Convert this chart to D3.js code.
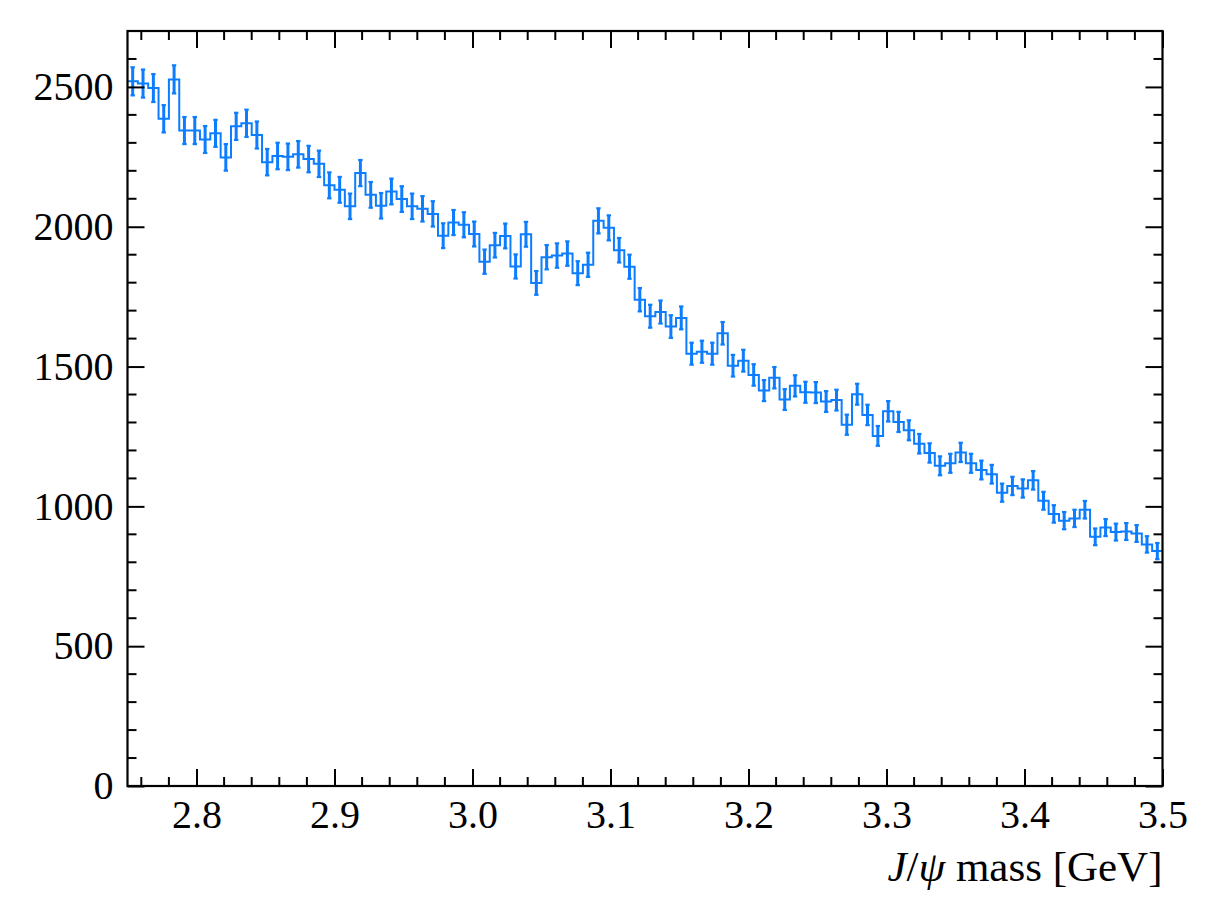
<!DOCTYPE html>
<html>
<head>
<meta charset="utf-8">
<script src="https://cdn.jsdelivr.net/npm/d3@7"></script>
<style>
  html, body { margin: 0; padding: 0; background: #fff; }
  svg { display: block; }
</style>
</head>
<body>
<svg id="chart" width="1218" height="918"></svg>
<script>
// ---- data ----
const xRange = [2.75, 3.5];
const nBins = 100;
const counts = [
  2520, 2512, 2496, 2386, 2527, 2344, 2344, 2312, 2334, 2248,
  2359, 2370, 2328, 2231, 2253, 2250, 2259, 2242, 2225, 2148,
  2132, 2073, 2192, 2114, 2075, 2126, 2099, 2073, 2064, 2046,
  1968, 2015, 2007, 1974, 1875, 1934, 1967, 1858, 1973, 1799,
  1891, 1897, 1904, 1834, 1864, 2021, 1996, 1916, 1857, 1739,
  1680, 1695, 1643, 1674, 1546, 1553, 1546, 1619, 1503, 1521,
  1470, 1414, 1460, 1382, 1431, 1408, 1407, 1375, 1380, 1292,
  1401, 1327, 1252, 1340, 1302, 1272, 1224, 1191, 1145, 1154,
  1193, 1154, 1130, 1115, 1049, 1073, 1064, 1093, 1020, 973,
  949, 957, 988, 891, 924, 908, 910, 903, 864, 840
];
const xTicks = [2.8, 2.9, 3.0, 3.1, 3.2, 3.3, 3.4, 3.5];
const yTicks = [0, 500, 1000, 1500, 2000, 2500];
const yDomain = [0, 2700];

(function () {
// ---- layout ----
const svg = d3.select("#chart");
const L = 127.5, R = 1162.5, T = 31, B = 786;
const color = "#0d7dff";
const font = "'Liberation Serif', 'Times New Roman', serif";

const x = d3.scaleLinear().domain(xRange).range([L, R]);
const y = d3.scaleLinear().domain(yDomain).range([B, T]);

const binW = (xRange[1] - xRange[0]) / nBins;
const bins = counts.map((c, i) => ({
  x0: xRange[0] + i * binW,
  x1: xRange[0] + (i + 1) * binW,
  c: c,
  e: Math.sqrt(c)
}));

// step line
const stepPts = [];
bins.forEach(b => { stepPts.push([b.x0, b.c]); stepPts.push([b.x1, b.c]); });
const line = d3.line().x(d => x(d[0])).y(d => y(d[1]));
svg.append("path")
  .attr("d", line(stepPts))
  .attr("fill", "none")
  .attr("stroke", color)
  .attr("stroke-width", 2)
  .attr("stroke-linejoin", "miter");

// error bars
const eg = svg.append("g");
bins.forEach(b => {
  const cx = x((b.x0 + b.x1) / 2);
  const y0 = y(b.c - b.e), y1 = y(b.c + b.e);
  eg.append("line").attr("x1", cx).attr("x2", cx).attr("y1", y0).attr("y2", y1)
    .attr("stroke", color).attr("stroke-width", 3);
  [y0, y1].forEach(yy => {
    eg.append("line").attr("x1", cx - 2.2).attr("x2", cx + 2.2).attr("y1", yy).attr("y2", yy)
      .attr("stroke", color).attr("stroke-width", 2.2);
  });
});

// axes (ticks inward on all four sides)
const majLen = 17, minLen = 9;
const xMinor = d3.range(2.76, 3.5001, 0.02).filter(v => !xTicks.some(t => Math.abs(t - v) < 1e-6));
const yMinor = d3.range(100, 2700, 100).filter(v => v % 500 !== 0);

const axB = d3.axisBottom(x).tickValues(xTicks).tickSize(-majLen).tickPadding(14).tickFormat(d3.format(".1f"));
const axT = d3.axisTop(x).tickValues(xTicks).tickSize(-majLen).tickFormat("");
const axL = d3.axisLeft(y).tickValues(yTicks).tickSize(-majLen).tickPadding(14).tickFormat(d3.format("d"));
const axR = d3.axisRight(y).tickValues(yTicks).tickSize(-majLen).tickFormat("");

function styleAxis(g) {
  g.select(".domain").remove();
  g.selectAll(".tick line").attr("stroke", "#000").attr("stroke-width", 2);
  g.selectAll("text").attr("font-family", font).attr("font-size", 40).attr("fill", "#000");
}
svg.append("g").attr("transform", `translate(0,${B})`).call(axB).call(styleAxis);
svg.append("g").attr("transform", `translate(0,${T})`).call(axT).call(styleAxis);
svg.append("g").attr("transform", `translate(${L},0)`).call(axL).call(styleAxis);
svg.append("g").attr("transform", `translate(${R},0)`).call(axR).call(styleAxis);

// minor ticks
const mg = svg.append("g").attr("stroke", "#000").attr("stroke-width", 2);
xMinor.forEach(v => {
  mg.append("line").attr("x1", x(v)).attr("x2", x(v)).attr("y1", B).attr("y2", B - minLen);
  mg.append("line").attr("x1", x(v)).attr("x2", x(v)).attr("y1", T).attr("y2", T + minLen);
});
yMinor.forEach(v => {
  mg.append("line").attr("x1", L).attr("x2", L + minLen).attr("y1", y(v)).attr("y2", y(v));
  mg.append("line").attr("x1", R).attr("x2", R - minLen).attr("y1", y(v)).attr("y2", y(v));
});

// frame
svg.append("rect").attr("x", L).attr("y", T).attr("width", R - L).attr("height", B - T)
  .attr("fill", "none").attr("stroke", "#000").attr("stroke-width", 2.2);

// x label
const xl = svg.append("text").attr("x", R).attr("y", 881).attr("text-anchor", "end")
  .attr("font-family", font).attr("font-size", 43).attr("fill", "#000");
xl.append("tspan").attr("font-style", "italic").text("J");
xl.append("tspan").text("/");
xl.append("tspan").attr("font-style", "italic").text("ψ");
xl.append("tspan").text(" mass [GeV]");
})();
</script>
</body>
</html>
